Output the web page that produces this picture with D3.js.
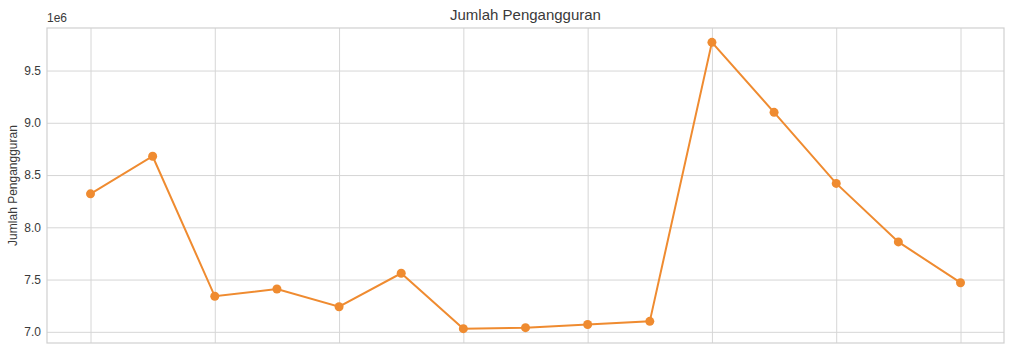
<!DOCTYPE html>
<html>
<head>
<meta charset="utf-8">
<style>
    body { margin: 0; background: #fff; }
    text { font-family: "Liberation Sans", Arial, sans-serif; fill: #3a3a3a; }
</style>
</head>
<body>
<div id="chart"></div>
<script src="https://cdn.jsdelivr.net/npm/d3@7"></script>
<script>
    // Jumlah pengangguran (juta orang), data Agustus
    var years = [2010, 2011, 2012, 2013, 2014, 2015, 2016, 2017, 2018, 2019, 2020, 2021, 2022, 2023, 2024];
    var unemployed = [8.32, 8.68, 7.34, 7.41, 7.24, 7.56, 7.03, 7.04, 7.07, 7.10, 9.77, 9.10, 8.42, 7.86, 7.47];
    var yTicks = [7.0, 7.5, 8.0, 8.5, 9.0, 9.5];
    var xTicks = [2010, 2012, 2014, 2016, 2018, 2020, 2022, 2024];

    var width = 1024,
        height = 359;

    var margin = {top: 28, right: 20, bottom: 16, left: 47};

    var svg = d3.select('#chart')
        .append('svg')
        .attr('width', width)
        .attr('height', height);

    var plotW = width - margin.left - margin.right,
        plotH = height - margin.top - margin.bottom;

    // matplotlib-style 5% padding
    var xPad = (d3.max(years) - d3.min(years)) * 0.05;
    var x = d3.scaleLinear()
        .domain([d3.min(years) - xPad, d3.max(years) + xPad])
        .range([margin.left, margin.left + plotW]);

    var yPad = (d3.max(unemployed) - d3.min(unemployed)) * 0.05;
    var y = d3.scaleLinear()
        .domain([d3.min(unemployed) - yPad, d3.max(unemployed) + yPad])
        .range([margin.top + plotH, margin.top]);

    // grid
    svg.append('g')
        .attr('transform', 'translate(0,' + margin.top + ')')
        .call(d3.axisBottom(x).tickValues(xTicks).tickSize(plotH).tickFormat(''))
        .call(function(g){
            g.select('.domain').remove();
            g.selectAll('line').attr('stroke', '#d6d6d6').attr('stroke-width', 1);
        });

    svg.append('g')
        .attr('transform', 'translate(' + margin.left + ',0)')
        .call(d3.axisLeft(y).tickValues(yTicks).tickSize(0).tickPadding(6).tickFormat(d3.format('.1f')))
        .call(function(g){
            g.select('.domain').remove();
            g.selectAll('text').style('font-size', '12px').attr('fill', '#3a3a3a');
        });

    svg.append('g')
        .attr('transform', 'translate(' + margin.left + ',0)')
        .call(d3.axisLeft(y).tickValues(yTicks).tickSize(-plotW).tickFormat(''))
        .call(function(g){
            g.select('.domain').remove();
            g.selectAll('line').attr('stroke', '#d6d6d6').attr('stroke-width', 1);
        });

    // frame
    svg.append('rect')
        .attr('x', margin.left)
        .attr('y', margin.top)
        .attr('width', plotW)
        .attr('height', plotH)
        .attr('fill', 'none')
        .attr('stroke', '#d0d0d0')
        .attr('stroke-width', 1.2);

    var line = d3.line()
        .x(function(d, i){ return x(years[i]); })
        .y(function(d){ return y(d); });

    svg.append('path')
        .datum(unemployed)
        .attr('d', line)
        .attr('fill', 'none')
        .attr('stroke', '#ef8b30')
        .attr('stroke-width', 2);

    svg.selectAll('circle.pt')
        .data(unemployed)
        .enter()
        .append('circle')
        .attr('class', 'pt')
        .attr('cx', function(d, i){ return x(years[i]); })
        .attr('cy', function(d){ return y(d); })
        .attr('r', 4.5)
        .attr('fill', '#ef8b30');

    svg.append('text')
        .attr('x', margin.left + plotW / 2)
        .attr('y', 20)
        .attr('text-anchor', 'middle')
        .style('font-size', '15px')
        .text('Jumlah Pengangguran');

    svg.append('text')
        .attr('x', margin.left)
        .attr('y', 22)
        .style('font-size', '12px')
        .text('1e6');

    svg.append('text')
        .attr('transform', 'translate(17,' + (margin.top + plotH / 2) + ') rotate(-90)')
        .attr('text-anchor', 'middle')
        .style('font-size', '12px')
        .text('Jumlah Pengangguran');
</script>
</body>
</html>
